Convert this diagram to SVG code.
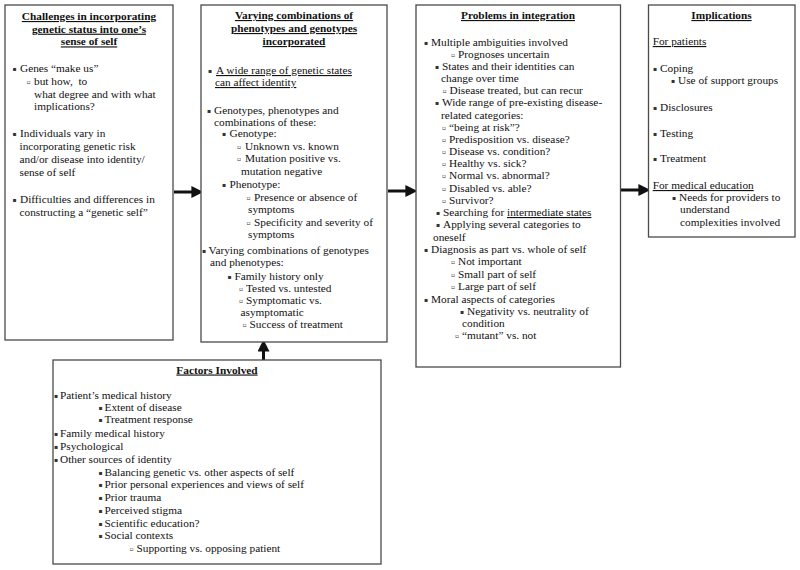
<svg xmlns="http://www.w3.org/2000/svg" width="800" height="570" viewBox="0 0 800 570">
<style>
.box{fill:#fff;stroke:#4a4a4a;stroke-width:1.3}
text{font-family:"Liberation Serif","Times New Roman",serif;font-size:11.3px;fill:#111}
.h{font-weight:bold;text-decoration:underline;text-anchor:middle}
.u{text-decoration:underline}
.b{font-family:"DejaVu Sans",sans-serif;font-size:6px;fill:#333}
.c{stroke:#111;stroke-width:3;fill:none}
</style>
<defs>
<marker id="ah" markerWidth="4" markerHeight="4" refX="1.2" refY="2" orient="auto" markerUnits="strokeWidth" viewBox="0 0 4 4">
<path d="M0,0 L4,2 L0,4 Z" fill="#111"/>
</marker>
</defs>
<rect width="800" height="570" fill="#fff"/>
<g id="connectors">
<line class="c" x1="174" y1="192" x2="195" y2="192" marker-end="url(#ah)"/>
<line class="c" x1="388" y1="191" x2="409" y2="191" marker-end="url(#ah)"/>
<line class="c" x1="621" y1="190" x2="642" y2="190" marker-end="url(#ah)"/>
<line class="c" x1="263.5" y1="360" x2="263.5" y2="348" marker-end="url(#ah)"/>
</g>
<g id="challenges">
<rect class="box" x="5" y="5" width="168" height="335"/>
<text class="h" x="89" y="20">Challenges in incorporating</text>
<text class="h" x="89" y="32.7">genetic status into one’s</text>
<text class="h" x="89" y="45.4">sense of self</text>
<text class="b" x="12.5" y="71">▪</text><text x="20" y="72">Genes “make us”</text>
<text class="b" x="26.5" y="84">▫</text><text x="34" y="85" xml:space="preserve">but how,  to</text>
<text x="34" y="97.5">what degree and with what</text>
<text x="34" y="110">implications?</text>
<text class="b" x="12.5" y="136">▪</text><text x="20" y="137">Individuals vary in</text>
<text x="19.5" y="149.5">incorporating genetic risk</text>
<text x="19.5" y="162.5">and/or disease into identity/</text>
<text x="19.5" y="175.5">sense of self</text>
<text class="b" x="12.5" y="202">▪</text><text x="20" y="203">Difficulties and differences in</text>
<text x="19.5" y="216">constructing a “genetic self”</text>
</g>
<g id="combinations">
<rect class="box" x="201" y="5" width="186" height="337"/>
<text class="h" x="294" y="19">Varying combinations of</text>
<text class="h" x="294" y="32">phenotypes and genotypes</text>
<text class="h" x="294" y="45">incorporated</text>
<text class="b" x="208" y="73">▪</text><text class="u" x="216" y="74">A wide range of genetic states</text>
<text class="u" x="215" y="86">can affect identity</text>
<text class="b" x="207" y="113">▪</text><text x="214" y="114">Genotypes, phenotypes and</text>
<text x="214" y="126">combinations of these:</text>
<text class="b" x="222" y="136">▪</text><text x="229.5" y="137">Genotype:</text>
<text class="b" x="237" y="149">▫</text><text x="245" y="150">Unknown vs. known</text>
<text class="b" x="237" y="161">▫</text><text x="245" y="162">Mutation positive vs.</text>
<text x="241" y="174.5">mutation negative</text>
<text class="b" x="222" y="187">▪</text><text x="229.5" y="188">Phenotype:</text>
<text class="b" x="246.5" y="200">▫</text><text x="254" y="201">Presence or absence of</text>
<text x="248" y="213">symptoms</text>
<text class="b" x="246.5" y="225">▫</text><text x="254" y="226">Specificity and severity of</text>
<text x="248" y="238">symptoms</text>
<text class="b" x="202" y="253">▪</text><text x="208.5" y="254">Varying combinations of genotypes</text>
<text x="210" y="266">and phenotypes:</text>
<text class="b" x="227.5" y="278.5">▪</text><text x="234.5" y="279.5">Family history only</text>
<text class="b" x="239" y="290.5">▫</text><text x="246" y="291.5">Tested vs. untested</text>
<text class="b" x="239" y="302.5">▫</text><text x="246" y="303.5">Symptomatic vs.</text>
<text x="240.5" y="316">asymptomatic</text>
<text class="b" x="242.5" y="327">▫</text><text x="249.5" y="328">Success of treatment</text>
</g>
<g id="problems">
<rect class="box" x="416" y="5" width="204.5" height="362"/>
<text class="h" x="518" y="19">Problems in integration</text>
<text class="b" x="424" y="44.5">▪</text><text x="431" y="45.5">Multiple ambiguities involved</text>
<text class="b" x="451" y="56.5">▫</text><text x="458" y="57.5">Prognoses uncertain</text>
<text class="b" x="435" y="68.5">▪</text><text x="442" y="69.5">States and their identities can</text>
<text x="441" y="82">change over time</text>
<text class="b" x="442.5" y="93">▫</text><text x="449.5" y="94">Disease treated, but can recur</text>
<text class="b" x="435" y="105">▪</text><text x="442" y="106">Wide range of pre-existing disease-</text>
<text x="441" y="118.5">related categories:</text>
<text class="b" x="442" y="129.5">▫</text><text x="449" y="130.5">“being at risk”?</text>
<text class="b" x="442" y="141.8">▫</text><text x="449" y="142.8">Predisposition vs. disease?</text>
<text class="b" x="442" y="154">▫</text><text x="449" y="155">Disease vs. condition?</text>
<text class="b" x="442" y="166">▫</text><text x="449" y="167">Healthy vs. sick?</text>
<text class="b" x="442" y="178.3">▫</text><text x="449" y="179.3">Normal vs. abnormal?</text>
<text class="b" x="442" y="190.5">▫</text><text x="449" y="191.5">Disabled vs. able?</text>
<text class="b" x="442" y="202.8">▫</text><text x="449" y="203.8">Survivor?</text>
<text class="b" x="436" y="215">▪</text><text x="443" y="216">Searching for <tspan class="u">intermediate states</tspan></text>
<text class="b" x="436" y="227.3">▪</text><text x="443" y="228.3">Applying several categories to</text>
<text x="433" y="240.5">oneself</text>
<text class="b" x="424" y="252">▪</text><text x="431" y="253">Diagnosis as part vs. whole of self</text>
<text class="b" x="451" y="264.3">▫</text><text x="458" y="265.3">Not important</text>
<text class="b" x="451" y="276.5">▫</text><text x="458" y="277.5">Small part of self</text>
<text class="b" x="451" y="288.8">▫</text><text x="458" y="289.8">Large part of self</text>
<text class="b" x="424" y="301.5">▪</text><text x="431" y="302.5">Moral aspects of categories</text>
<text class="b" x="460" y="313.8">▪</text><text x="467" y="314.8">Negativity vs. neutrality of</text>
<text x="462" y="327">condition</text>
<text class="b" x="455" y="338.3">▫</text><text x="462" y="339.3">“mutant” vs. not</text>
</g>
<g id="implications">
<rect class="box" x="648.5" y="5" width="146.5" height="232"/>
<text class="h" x="721.5" y="19">Implications</text>
<text class="u" x="652.7" y="45">For patients</text>
<text class="b" x="653" y="71">▪</text><text x="660" y="72">Coping</text>
<text class="b" x="671" y="83">▪</text><text x="678" y="84">Use of support groups</text>
<text class="b" x="653" y="109.5">▪</text><text x="660" y="110.5">Disclosures</text>
<text class="b" x="653" y="135.5">▪</text><text x="660" y="136.5">Testing</text>
<text class="b" x="653" y="161.3">▪</text><text x="660" y="162.3">Treatment</text>
<text class="u" x="652.7" y="189">For medical education</text>
<text class="b" x="672" y="199.7">▪</text><text x="679" y="200.7">Needs for providers to</text>
<text x="680" y="213">understand</text>
<text x="680" y="225.5">complexities involved</text>
</g>
<g id="factors">
<rect class="box" x="53" y="360" width="328" height="204"/>
<text class="h" x="217" y="373.5">Factors Involved</text>
<text class="b" x="54" y="397.5">▪</text><text x="60" y="398.5">Patient’s medical history</text>
<text class="b" x="98.5" y="409.5">▪</text><text x="104.5" y="410.5">Extent of disease</text>
<text class="b" x="98.5" y="421.5">▪</text><text x="104.5" y="422.5">Treatment response</text>
<text class="b" x="54" y="436">▪</text><text x="60" y="437">Family medical history</text>
<text class="b" x="54" y="448.8">▪</text><text x="60" y="449.8">Psychological</text>
<text class="b" x="54" y="462">▪</text><text x="60" y="463">Other sources of identity</text>
<text class="b" x="98.5" y="474.7">▪</text><text x="104.5" y="475.7">Balancing genetic vs. other aspects of self</text>
<text class="b" x="98.5" y="487.4">▪</text><text x="104.5" y="488.4">Prior personal experiences and views of self</text>
<text class="b" x="98.5" y="500.1">▪</text><text x="104.5" y="501.1">Prior trauma</text>
<text class="b" x="98.5" y="512.8">▪</text><text x="104.5" y="513.8">Perceived stigma</text>
<text class="b" x="98.5" y="525.5">▪</text><text x="104.5" y="526.5">Scientific education?</text>
<text class="b" x="98.5" y="538.2">▪</text><text x="104.5" y="539.2">Social contexts</text>
<text class="b" x="129.5" y="550.9">▫</text><text x="136.5" y="551.9">Supporting vs. opposing patient</text>
</g>
</svg>
